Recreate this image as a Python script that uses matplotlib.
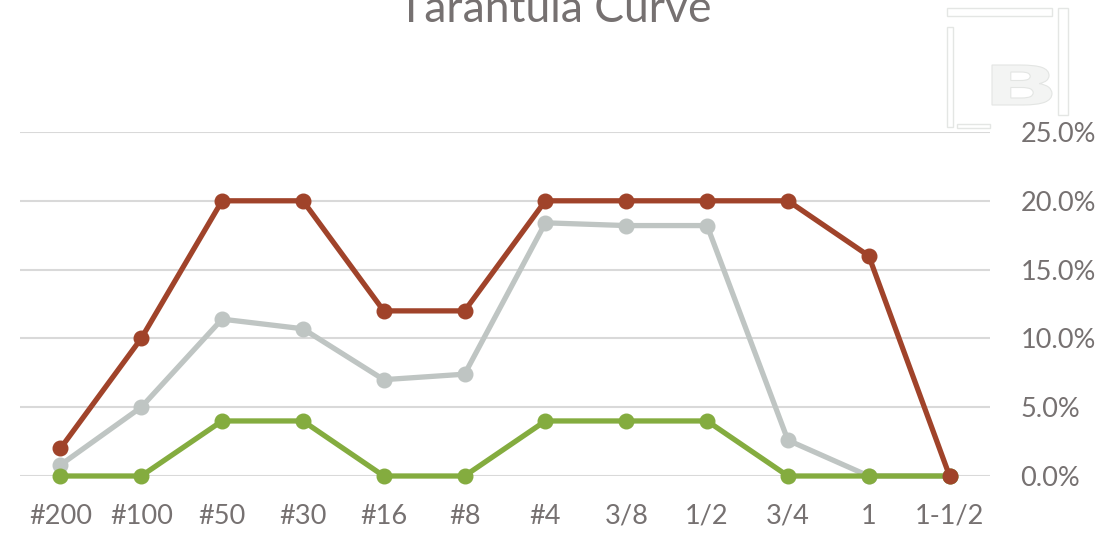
import matplotlib
matplotlib.use("Agg")
import matplotlib.pyplot as plt
from matplotlib.patches import Rectangle, PathPatch
from matplotlib.textpath import TextPath
from matplotlib.font_manager import FontProperties
from matplotlib.transforms import Affine2D
from matplotlib.ticker import FuncFormatter

categories = ["#200", "#100", "#50", "#30", "#16", "#8", "#4", "3/8", "1/2", "3/4", "1", "1-1/2"]
upper_limit = [2, 10, 20, 20, 12, 12, 20, 20, 20, 20, 16, 0]
actual = [0.8, 5.0, 11.4, 10.7, 7.0, 7.4, 18.4, 18.2, 18.2, 2.6, 0.0, 0.0]
lower_limit = [0, 0, 4, 4, 0, 0, 4, 4, 4, 0, 0, 0]
y_ticks = [0, 5, 10, 15, 20, 25]

text_color = "#767171"
W, H = 1109, 535
fig = plt.figure(figsize=(W / 100, H / 100), dpi=100)
fig.patch.set_facecolor("white")

ax = fig.add_axes([20 / W, 1 - 476 / H, 970 / W, 344 / H])
ax.set_facecolor("none")
x = list(range(len(categories)))

common = dict(linewidth=3.8, marker="o", markersize=10.5, clip_on=False, solid_joinstyle="round")
ax.plot(x, actual, color="#BFC5C3", zorder=3, **common)
ax.plot(x, lower_limit, color="#84AC3F", zorder=4, **common)
ax.plot(x, upper_limit, color="#A0432A", zorder=5, **common)

ax.set_xlim(-0.5, len(categories) - 0.5)
ax.set_ylim(0, 25)
ax.set_yticks(y_ticks)
ax.yaxis.set_major_formatter(FuncFormatter(lambda v, p: f"{v:.1f}%"))
ax.yaxis.tick_right()
ax.set_xticks(x)
ax.set_xticklabels(categories)

fname = ["Lato", "DejaVu Sans"]
for lab in ax.get_xticklabels() + ax.get_yticklabels():
    lab.set_family(fname)
    lab.set_fontsize(19.5)
    lab.set_color(text_color)
ax.tick_params(axis="y", length=0, pad=22)
ax.tick_params(axis="x", length=0, pad=20)

ax.grid(axis="y", color="#D9D9D9", linewidth=1.5, zorder=0)
ax.set_axisbelow(True)
for s in ax.spines.values():
    s.set_visible(False)

fig.text(555 / W, 1 - 22 / H, "Tarantula Curve", ha="center", va="baseline",
         fontsize=32, color=text_color, family=fname)

# faint logo in top-right corner (figure pixel coords)
def px_rect(x0, y0, x1, y1, **kw):
    fig.patches.append(Rectangle((x0 / W, 1 - y1 / H), (x1 - x0) / W, (y1 - y0) / H,
                                 transform=fig.transFigure, figure=fig, **kw))

logo_edge = "#E4E6E4"
px_rect(947, 8, 1052, 16, facecolor="white", edgecolor=logo_edge, linewidth=1.0, zorder=-2)
px_rect(947, 27, 953, 127, facecolor="white", edgecolor=logo_edge, linewidth=1.0, zorder=-2)
px_rect(1058, 8, 1068, 115, facecolor="white", edgecolor=logo_edge, linewidth=1.0, zorder=-2)
px_rect(957, 124, 990, 128, facecolor="white", edgecolor=logo_edge, linewidth=1.0, zorder=-2)

tp = TextPath((0, 0), "B", size=1, prop=FontProperties(family="DejaVu Sans", weight="bold"))
ext = tp.get_extents()
bx0, by0, bx1, by1 = 992, 65, 1052, 105
tr = (Affine2D().translate(-ext.x0, -ext.y0)
      .scale((bx1 - bx0) / ext.width / W, (by1 - by0) / ext.height / H)
      .translate(bx0 / W, 1 - by1 / H))
fig.patches.append(PathPatch(tr.transform_path(tp), transform=fig.transFigure, figure=fig,
                             facecolor="#F3F4F3", edgecolor="#E3E5E3", linewidth=0.8, zorder=-1))

fig.savefig("out.png", dpi=100, facecolor="white")
